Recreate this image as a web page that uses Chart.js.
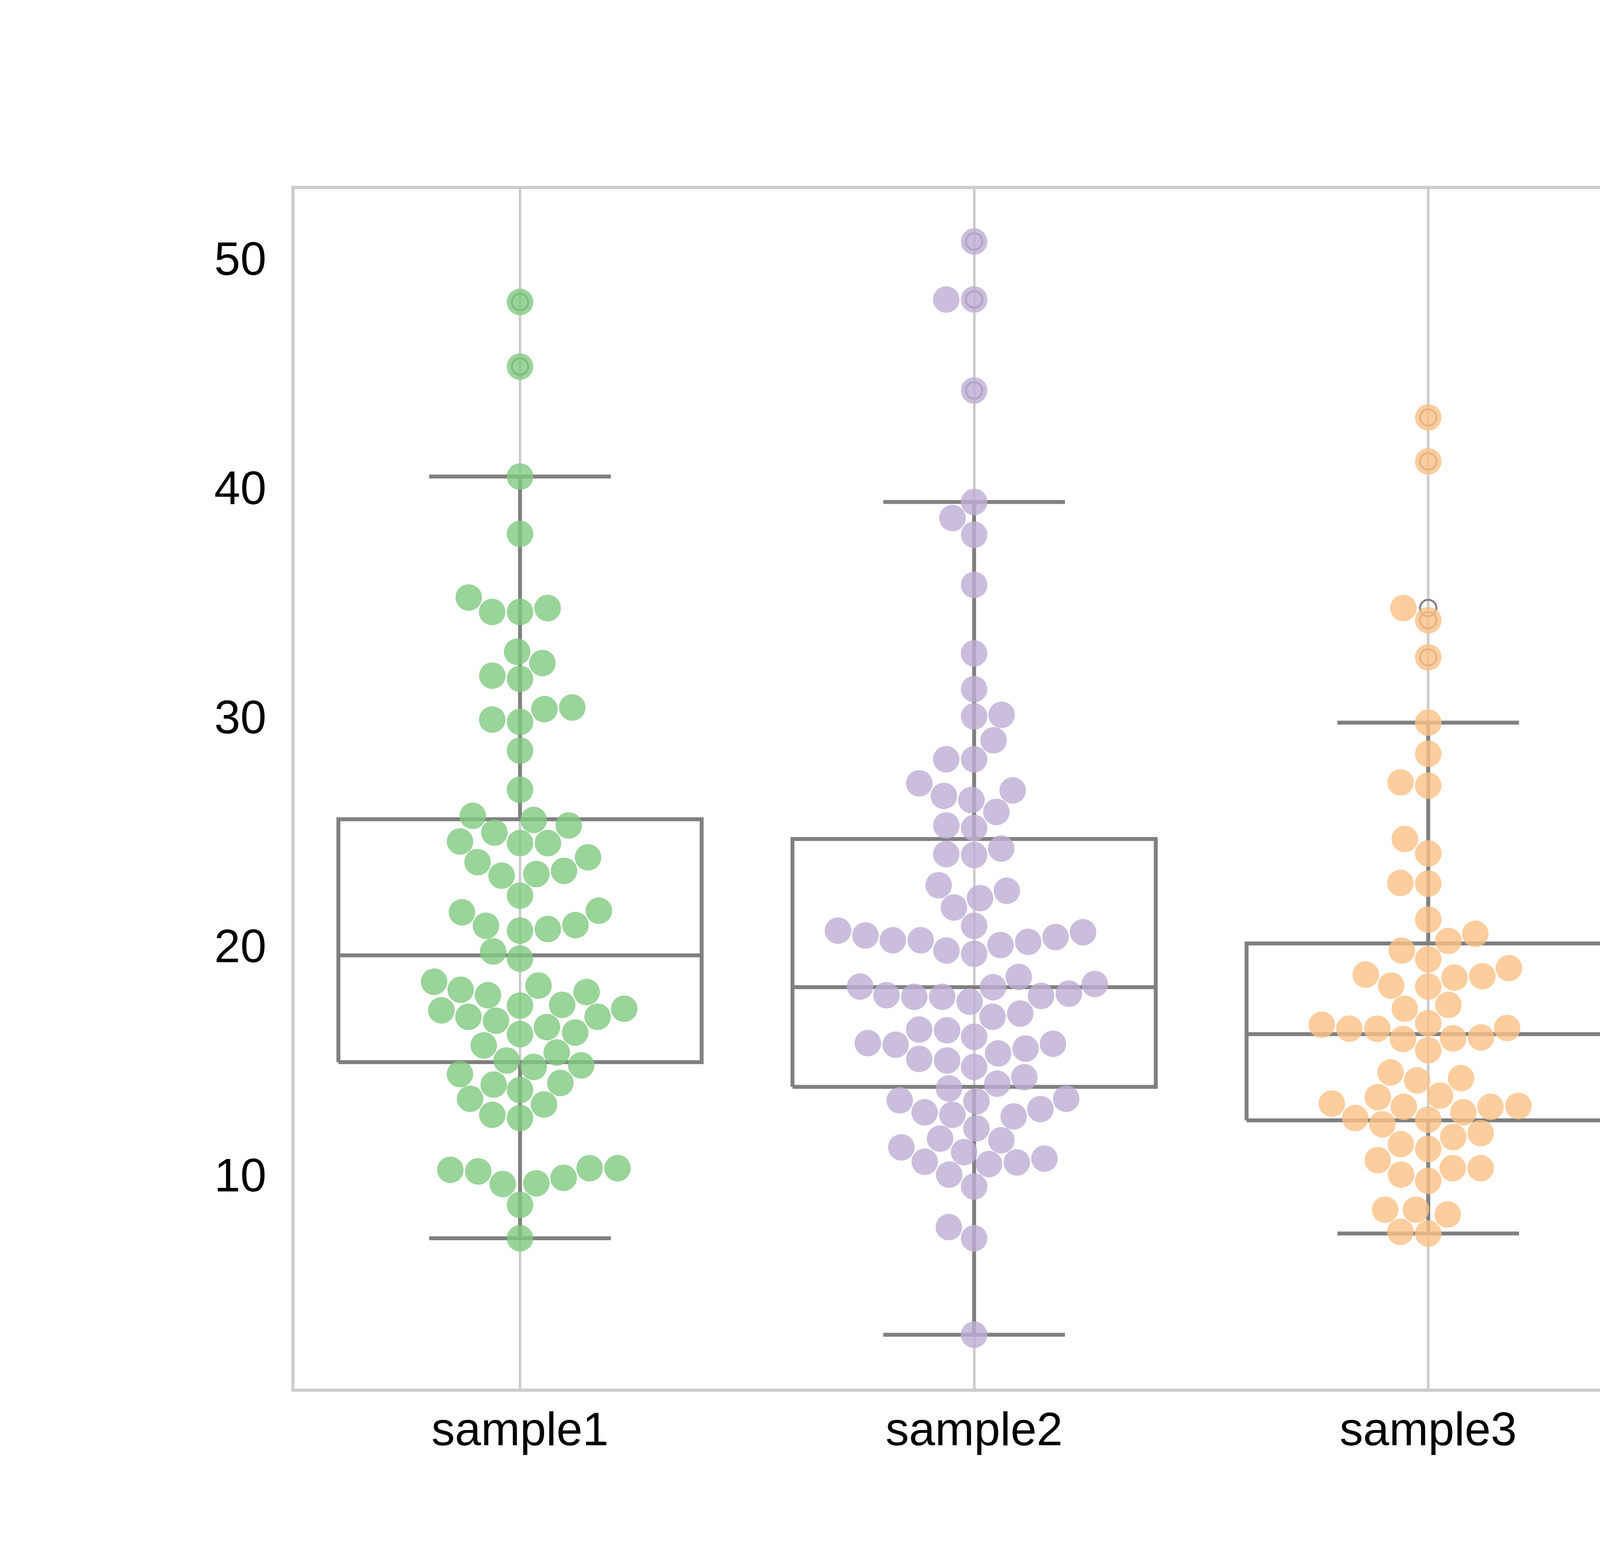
<!DOCTYPE html>
<html lang="en">
<head>
  <meta charset="UTF-8" />
  <title>Box plot with swarm</title>
  <script src="https://cdn.jsdelivr.net/npm/chart.js"></script>
  <style>
    body { margin: 0; background: #ffffff; }
    canvas { display: block; }
  </style>
</head>
<body>
  <canvas id="chart" width="6000" height="4000"></canvas>

  <script>
    // categories and raw values
    const categories = ["sample1", "sample2", "sample3", "sample4"];

    const sample1 = [48.26, 45.44, 40.64, 38.14, 35.36, 34.73, 34.73, 34.9, 32.99, 32.5, 31.95, 31.81,
      30.56, 30.49, 30.03, 29.93, 28.68, 26.97, 25.83, 25.65, 25.41, 25.1, 24.71, 24.64, 24.64, 24.02,
      23.81, 23.29, 23.22, 23.43, 22.35, 21.69, 21.62, 21.03, 20.89, 21.06, 20.82, 19.91, 19.6, 18.59,
      18.42, 18.24, 18.14, 18.0, 17.58, 17.55, 17.41, 17.34, 17.06, 17.06, 16.89, 16.61, 16.37, 16.3,
      15.81, 15.5, 15.15, 14.87, 14.94, 14.56, 14.17, 13.86, 14.1, 13.48, 13.23, 12.78, 12.64, 10.45,
      10.38, 10.31, 10.45, 10.03, 9.76, 9.79, 8.85, 7.39];
    const sample2 = [50.9, 48.37, 48.37, 44.4, 39.53, 38.83, 38.1, 35.91, 32.92, 31.36, 30.17, 30.24,
      29.13, 28.3, 28.3, 27.25, 26.7, 26.52, 26.94, 26.0, 25.41, 25.3, 24.4, 24.16, 24.12, 22.8, 22.56,
      22.24, 21.83, 21.03, 20.75, 20.54, 20.82, 20.61, 20.4, 20.4, 20.33, 20.19, 19.95, 19.81, 18.8,
      18.49, 18.38, 18.35, 18.07, 18.0, 17.97, 17.93, 17.93, 17.72, 17.2, 17.06, 16.5, 16.47, 16.19,
      15.88, 15.91, 15.84, 15.67, 15.46, 15.22, 15.15, 14.87, 14.42, 14.14, 13.93, 13.48, 13.41, 13.37,
      13.03, 12.89, 12.78, 12.71, 12.19, 11.74, 11.67, 11.36, 11.15, 10.87, 10.73, 10.7, 10.63, 10.17,
      9.65, 7.88, 7.39, 3.18];
    const sample3 = [43.22, 41.3, 34.9, 34.37, 32.75, 29.9, 28.54, 27.29, 27.15, 24.82, 24.19, 22.9,
      22.87, 21.3, 20.68, 20.37, 19.95, 19.57, 19.18, 18.9, 18.83, 18.77, 18.42, 18.38, 17.58, 17.41,
      16.78, 16.71, 16.57, 16.54, 16.54, 16.16, 16.12, 16.09, 15.6, 14.63, 14.38, 14.28, 13.62, 13.55,
      13.27, 13.17, 13.13, 13.13, 12.89, 12.64, 12.57, 12.37, 11.98, 11.81, 11.5, 11.29, 10.8, 10.45,
      10.45, 10.17, 9.9, 8.64, 8.64, 8.43, 7.67, 7.6];
    const sample4 = [40.26, 29.06, 27.36, 22.83, 22.59, 21.1, 16.43, 16.37, 16.09, 15.46, 13.55, 13.51,
      12.57, 12.3, 12.16, 11.46, 10.21, 8.68, 5.86];
    const samples = [sample1, sample2, sample3, sample4];

    // box statistics as drawn in the figure
    const q1 = [15.08, 14.0, 12.54, 12.19];
    const median = [19.74, 18.35, 16.3, 15.46];
    const q3 = [25.68, 24.82, 20.26, 21.86];
    const whiskerLow = [7.39, 3.18, 7.6, 5.86];
    const whiskerHigh = [40.64, 39.53, 29.9, 29.06];

    const yTicks = [10, 20, 30, 40, 50];

    const dotColors = ["rgba(127,201,127,0.8)", "rgba(190,174,212,0.8)",
                       "rgba(253,192,134,0.8)", "rgba(255,255,153,0.8)"];
    const lineGray = "#808080";
    const lightGray = "#cccccc";
    const textColor = "#000000";
    const dotRadius = 34;
    const boxHalf = 0.4;
    const capHalf = 0.2;

    // box outlines + medians, one path with gaps
    const boxPath = [];
    const whiskerPath = [];
    const fliers = [];
    categories.forEach((c, i) => {
      boxPath.push({x: i - boxHalf, y: q1[i]}, {x: i + boxHalf, y: q1[i]}, {x: i + boxHalf, y: q3[i]},
                   {x: i - boxHalf, y: q3[i]}, {x: i - boxHalf, y: q1[i]}, {x: i, y: null},
                   {x: i - boxHalf, y: median[i]}, {x: i + boxHalf, y: median[i]}, {x: i, y: null});
      whiskerPath.push({x: i, y: q3[i]}, {x: i, y: whiskerHigh[i]}, {x: i, y: null},
                       {x: i - capHalf, y: whiskerHigh[i]}, {x: i + capHalf, y: whiskerHigh[i]}, {x: i, y: null},
                       {x: i, y: q1[i]}, {x: i, y: whiskerLow[i]}, {x: i, y: null},
                       {x: i - capHalf, y: whiskerLow[i]}, {x: i + capHalf, y: whiskerLow[i]}, {x: i, y: null});
      samples[i].forEach(v => {
        if (v > whiskerHigh[i] || v < whiskerLow[i]) fliers.push({x: i, y: v});
      });
    });

    const frame = {
      id: "frame",
      afterDatasetsDraw(chart) {
        const {ctx, chartArea: a} = chart;
        ctx.save();
        ctx.strokeStyle = lightGray;
        ctx.lineWidth = 8;
        ctx.strokeRect(a.left, a.top, a.right - a.left, a.bottom - a.top);
        // empty legend frame, top right
        ctx.lineWidth = 6;
        ctx.beginPath();
        ctx.roundRect(a.right - 90, a.top + 35, 55, 55, 11);
        ctx.stroke();
        ctx.restore();
      }
    };

    const ctx = document.getElementById("chart").getContext("2d");
    const dotSets = samples.map((s, i) => ({
      type: "scatter",
      data: s.map(v => ({x: i, y: v})),
      backgroundColor: dotColors[i],
      borderWidth: 0,
      pointRadius: dotRadius,
      pointHoverRadius: dotRadius,
      order: 0
    }));

    const chart = new Chart(ctx, {
      data: {
        datasets: dotSets.concat([
          {
            type: "scatter",
            data: fliers,
            backgroundColor: "rgba(0,0,0,0)",
            borderColor: lineGray,
            borderWidth: 5,
            pointRadius: 21,
            pointHoverRadius: 21,
            order: 1
          },
          {
            type: "line",
            data: boxPath,
            borderColor: lineGray,
            borderWidth: 10,
            pointRadius: 0,
            spanGaps: false,
            borderJoinStyle: "miter",
            order: 2
          },
          {
            type: "line",
            data: whiskerPath,
            borderColor: lineGray,
            borderWidth: 10,
            pointRadius: 0,
            spanGaps: false,
            order: 2
          }
        ])
      },
      options: {
        responsive: false,
        devicePixelRatio: 1,
        animation: false,
        events: [],
        layout: { padding: { top: 480, right: 600, left: 0, bottom: 0 } },
        plugins: { legend: { display: false }, tooltip: { enabled: false } },
        scales: {
          x: {
            type: "linear",
            min: -0.5,
            max: 3.5,
            afterBuildTicks: ax => { ax.ticks = categories.map((c, i) => ({value: i})); },
            afterFit: ax => { ax.height = 440; },
            ticks: {
              callback: v => categories[v],
              font: { family: "'Liberation Sans', Arial, sans-serif", size: 120 },
              color: textColor,
              padding: 36,
              maxRotation: 0,
              autoSkip: false
            },
            grid: { color: lightGray, lineWidth: 6.5, drawTicks: false },
            border: { display: false }
          },
          y: {
            type: "linear",
            min: 0.76,
            max: 53.26,
            afterBuildTicks: ax => { ax.ticks = yTicks.map(v => ({value: v})); },
            afterFit: ax => { ax.width = 750; },
            ticks: {
              font: { family: "'Liberation Sans', Arial, sans-serif", size: 120 },
              color: textColor,
              padding: 68
            },
            grid: { display: false, drawTicks: false },
            border: { display: false }
          }
        }
      },
      plugins: [frame]
    });

    // swarm layout in pixel space, same rule as seaborn's beeswarm
    function swarmPixels(values, center) {
      const xs = chart.scales.x, ys = chart.scales.y;
      const cx = xs.getPixelForValue(center);
      const pts = values.map((v, k) => ({k, x: cx, y: -ys.getPixelForValue(v), r: dotRadius}));
      pts.sort((a, b) => a.y - b.y);
      const placed = [];
      pts.forEach(p => {
        const neighbors = [];
        for (let j = placed.length - 1; j >= 0; j--) {
          if (p.y - placed[j].y < p.r + placed[j].r) neighbors.push(placed[j]);
          else break;
        }
        const cands = [p.x];
        let leftFirst = true;
        neighbors.forEach(n => {
          const dy = p.y - n.y;
          const dx = Math.sqrt(Math.max((p.r + n.r) ** 2 - dy * dy, 0)) * 1.05;
          if (leftFirst) cands.push(n.x - dx, n.x + dx);
          else cands.push(n.x + dx, n.x - dx);
          leftFirst = !leftFirst;
        });
        const order = cands.map((x, idx) => ({x, idx})).sort((a, b) => Math.abs(a.x - cx) - Math.abs(b.x - cx));
        let chosen = cx;
        for (const c of order) {
          const ok = neighbors.every(n => (n.x - c.x) ** 2 + (n.y - p.y) ** 2 >= (n.r + p.r) ** 2 - 1e-6);
          if (ok) { chosen = c.x; break; }
        }
        p.x = chosen;
        placed.push(p);
      });
      const out = new Array(values.length);
      placed.forEach(p => { out[p.k] = xs.getValueForPixel(p.x); });
      return out;
    }

    samples.forEach((s, i) => {
      const xs = swarmPixels(s, i);
      chart.data.datasets[i].data = s.map((v, k) => ({x: xs[k], y: v}));
    });
    chart.update();
  </script>
</body>
</html>
